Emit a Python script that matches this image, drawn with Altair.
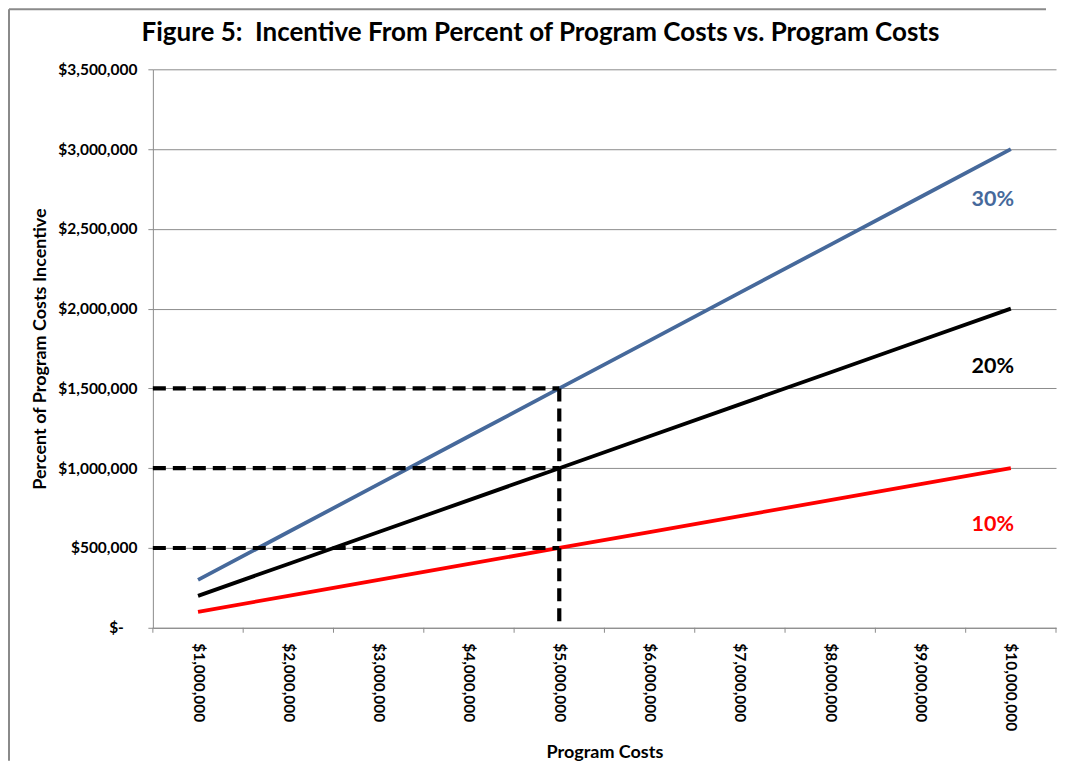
import altair as alt
import pandas as pd

# ---- data ----
costs = [1000000, 2000000, 3000000, 4000000, 5000000,
         6000000, 7000000, 8000000, 9000000, 10000000]
inc_10 = [100000, 200000, 300000, 400000, 500000, 600000, 700000, 800000, 900000, 1000000]
inc_20 = [200000, 400000, 600000, 800000, 1000000, 1200000, 1400000, 1600000, 1800000, 2000000]
inc_30 = [300000, 600000, 900000, 1200000, 1500000, 1800000, 2100000, 2400000, 2700000, 3000000]
series_names = ["10%", "20%", "30%"]
series_colors = ["#FF0000", "#000000", "#46699B"]

guide_cost = 5000000
guide_levels = [500000, 1000000, 1500000]

label_cost = 9800000
label_values = [645000, 1634000, 2680000]

y_ticks = [0, 500000, 1000000, 1500000, 2000000, 2500000, 3000000, 3500000]
zero_label = "$-"
title_text = "Figure 5:\u00a0\u00a0Incentive From Percent of Program Costs vs. Program Costs"

# ---- tables ----
rows = []
for name, vals in zip(series_names, [inc_10, inc_20, inc_30]):
    for c, v in zip(costs, vals):
        rows.append({"cost": c, "incentive": v, "series": name})
df = pd.DataFrame(rows)

half = (costs[1] - costs[0]) / 2
x_min = costs[0] - half
x_max = costs[-1] + half
boundaries = [c - half for c in costs] + [x_max]
df_bounds = pd.DataFrame({"b": boundaries})

df_h = pd.DataFrame({"level": guide_levels,
                     "start": [x_min] * len(guide_levels),
                     "cost": [guide_cost] * len(guide_levels)})
df_v = pd.DataFrame({"cost": [guide_cost], "top": [max(guide_levels)], "bottom": [0]})
df_lab = pd.DataFrame({"cost": [label_cost] * 3, "val": label_values, "series": series_names})
df_zero = pd.DataFrame({"v": [y_ticks[0]], "t": [zero_label]})

W, H = 904, 559
FONT = "Lato"

xscale = alt.Scale(domain=[x_min, x_max], nice=False, zero=False)
yscale = alt.Scale(domain=[0, 3500000], nice=False)
cscale = alt.Scale(domain=series_names, range=series_colors)

x_axis = alt.Axis(
    values=costs, labelAngle=90, tickSize=0, labelPadding=15,
    labelExpr="'$' + format(datum.value, ',')",
    title="Program Costs", titlePadding=13, grid=False,
)
y_axis = alt.Axis(
    values=y_ticks, tickSize=5, labelPadding=11,
    labelExpr="datum.value == 0 ? '' : '$' + format(datum.value, ',')",
    title="Percent of Program Costs Incentive", titlePadding=8, grid=True,
)

lines = alt.Chart(df).mark_line(strokeWidth=3.8).encode(
    x=alt.X("cost:Q", scale=xscale, axis=x_axis),
    y=alt.Y("incentive:Q", scale=yscale, axis=y_axis),
    color=alt.Color("series:N", scale=cscale, legend=None),
)

zero_text = alt.Chart(df_zero).mark_text(
    font=FONT, fontSize=15.5, fontWeight="bold", align="right", baseline="middle", color="black"
).encode(x=alt.value(-29), y=alt.Y("v:Q", scale=yscale), text="t:N")

xticks = alt.Chart(df_bounds).mark_rule(color="#8c8c8c", strokeWidth=1).encode(
    x=alt.X("b:Q", scale=xscale),
    y=alt.value(H), y2=alt.value(H + 5),
)

hdash = alt.Chart(df_h).mark_rule(color="black", strokeWidth=4.2, strokeDash=[13, 7]).encode(
    x=alt.X("start:Q", scale=xscale),
    x2=alt.X2("cost:Q"),
    y=alt.Y("level:Q", scale=yscale),
)
vdash = alt.Chart(df_v).mark_rule(color="black", strokeWidth=4.2, strokeDash=[13, 7]).encode(
    x=alt.X("cost:Q", scale=xscale),
    y=alt.Y("top:Q", scale=yscale),
    y2=alt.Y2("bottom:Q"),
)

labels = alt.Chart(df_lab).mark_text(
    font=FONT, fontSize=21.5, fontWeight="bold", align="center", baseline="middle"
).encode(
    x=alt.X("cost:Q", scale=xscale),
    y=alt.Y("val:Q", scale=yscale),
    text="series:N",
    color=alt.Color("series:N", scale=cscale, legend=None),
)

one = pd.DataFrame({"t": [title_text]})
title = alt.Chart(one).mark_text(
    font=FONT, fontSize=26, fontWeight="bold", align="center", baseline="middle", color="black"
).encode(x=alt.value(388), y=alt.value(-36), text="t:N")

border_top = alt.Chart(one).mark_rule(color="#8a8a8a", strokeWidth=2).encode(
    x=alt.value(-144), x2=alt.value(894), y=alt.value(-60)
)
border_left = alt.Chart(one).mark_rule(color="#8a8a8a", strokeWidth=2).encode(
    x=alt.value(-144), y=alt.value(-60), y2=alt.value(692)
)

chart = alt.layer(
    border_top, border_left, title, xticks, lines, hdash, vdash, labels, zero_text
).properties(
    width=W, height=H, padding=0
).configure_view(
    stroke=None
).configure_axis(
    labelFont=FONT, labelFontSize=15.5, labelFontWeight="bold", labelColor="black",
    titleFont=FONT, titleFontSize=18, titleFontWeight="bold", titleColor="black",
    domainColor="#8c8c8c", tickColor="#8c8c8c", gridColor="#8c8c8c",
    domainWidth=1, gridWidth=1, labelFlush=False, labelOverlap=False,
)

chart.save("out.html", embed_options={"renderer": "svg", "actions": False})
